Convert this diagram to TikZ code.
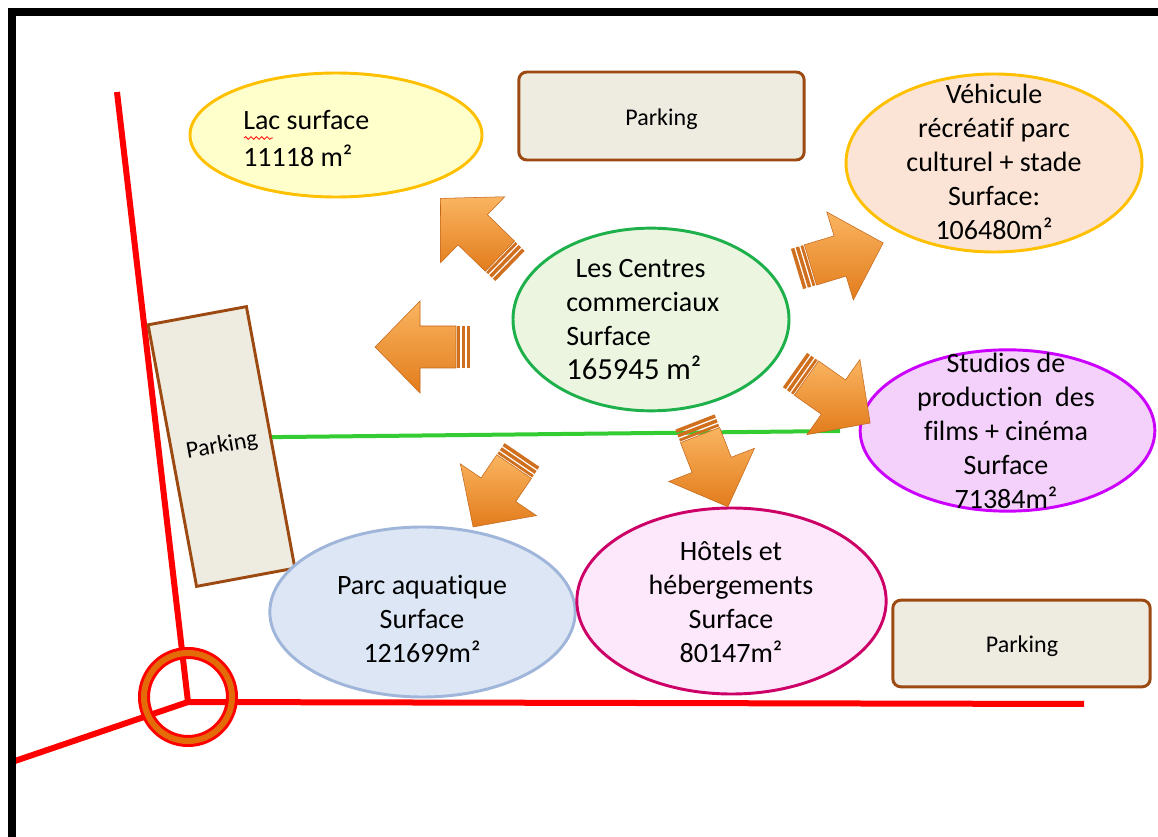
\documentclass[tikz,border=0pt]{standalone}
\usepackage{fontspec}
\setmainfont{Carlito}[Ligatures={NoCommon}]
\usetikzlibrary{shapes.geometric,decorations.pathmorphing}

\definecolor{roadred}{HTML}{FF0000}
\definecolor{ringorange}{HTML}{E36C09}
\definecolor{lakefill}{HTML}{FFFFCC}
\definecolor{goldline}{HTML}{FFC000}
\definecolor{parkfill}{HTML}{EEECE1}
\definecolor{parkline}{HTML}{9C4A12}
\definecolor{peachfill}{HTML}{FBE4D5}
\definecolor{mallfill}{HTML}{EBF5E0}
\definecolor{mallline}{HTML}{1DB04B}
\definecolor{studiofill}{HTML}{F3D1FA}
\definecolor{studioline}{HTML}{CC00FF}
\definecolor{aquafill}{HTML}{DCE6F4}
\definecolor{aqualine}{HTML}{9FB6DA}
\definecolor{hotelfill}{HTML}{FCE7FB}
\definecolor{hotelline}{HTML}{CC0066}
\definecolor{linkgreen}{HTML}{33CC33}
\definecolor{arrowlight}{HTML}{FAB460}
\definecolor{arrowdark}{HTML}{E27C1C}
\definecolor{arrowedge}{HTML}{C4661A}
\definecolor{stripe}{HTML}{D0701E}

\tikzset{
  zone/.style={ellipse, draw, line width=2.2pt, inner sep=0pt},
  parkbox/.style={rectangle, rounded corners=6pt, draw=parkline, fill=parkfill,
    line width=2.2pt, inner sep=0pt},
  label/.style={align=center, inner sep=0pt, font=\fontsize{21}{25.5}\selectfont},
  parklabel/.style={inner sep=0pt, font=\fontsize{18}{20}\selectfont},
  road/.style={draw=roadred, line width=4.5pt},
  arrowbody/.style={top color=arrowlight, bottom color=arrowdark, draw=arrowedge, line width=0.4pt},
  arrowstripe/.style={fill=stripe, draw=none},
}

% Block arrow: tail point, direction (degrees), length
\newcommand{\blockarrow}[4]{%
  \begin{scope}[shift={(#1,#2)}, rotate=#3]
    \shade[arrowbody] (14,-21) -- ({#4-45},-21) -- ({#4-45},-46) -- (#4,0)
      -- ({#4-45},46) -- ({#4-45},21) -- (14,21) -- cycle;
    \fill[arrowstripe] (0,-21) rectangle (3.5,21);
    \fill[arrowstripe] (5,-21) rectangle (8.5,21);
    \fill[arrowstripe] (10,-21) rectangle (12.8,21);
  \end{scope}}

\begin{document}
\begin{tikzpicture}[x=0.75pt,y=-0.75pt]
  \useasboundingbox (0,0) rectangle (1158,837);
  \fill[white] (0,0) rectangle (1158,837);

  % roads and roundabout
  \coordinate (north) at (117,92);
  \coordinate (hub) at (188,702);
  \coordinate (east) at (1084,704);
  \coordinate (west) at (12,762);
  \draw[road] (north) -- (hub);
  \draw[road] (hub) -- (east);
  \draw[road] (hub) -- (west);
  \node[circle, draw=roadred, line width=9pt, minimum size=66pt, inner sep=0pt] (ring) at (188,697) {};
  \node[circle, draw=ringorange, line width=4.5pt, minimum size=66pt, inner sep=0pt] (ringin) at (188,697) {};

  % frame
  \fill[black] (8,8) rectangle (1158,16);
  \fill[black] (8,8) rectangle (16,837);

  % zones
  \node[zone, draw=goldline, fill=lakefill, minimum width=219pt, minimum height=93pt] (lac) at (336,135) {};
  \node[label, align=left, anchor=north west, font=\fontsize{21}{27.75}\selectfont] (lac-t) at (243,110.5)
    {Lac surface\\11118 m²};
  \draw[roadred, line width=0.6pt, decorate,
        decoration={snake, amplitude=1pt, segment length=4pt}] (244,138) -- (273,138);

  \node[parkbox, minimum width=214pt, minimum height=66pt] (p1) at (661.5,116) {};
  \node[parklabel] (p1-t) at (661.5,119) {Parking};

  \node[zone, draw=goldline, fill=peachfill, minimum width=222pt, minimum height=133.5pt] (veh) at (994,163) {};
  \node[label] (veh-t) at (994,162)
    {Véhicule\\récréatif parc\\culturel + stade\\Surface:\\106480m²};

  \node[zone, draw=mallline, fill=mallfill, minimum width=207pt, minimum height=137pt] (mall) at (651,319.5) {};
  \node[label, align=left, anchor=north west] (mall-t) at (566,259)
    {\hspace*{7pt}Les Centres\\commerciaux\\Surface\\[0pt]{\fontsize{23}{25.5}\selectfont 165945 m²}};

  \node[zone, draw=studioline, fill=studiofill, minimum width=221pt, minimum height=121pt] (studio) at (1007.5,430.5) {};
  \node[label] (studio-t) at (1006,431)
    {Studios de\\production \ des\\films + cinéma\\Surface\\71384m²};

  \node[parkbox, rounded corners=0pt, rotate=10.5, minimum width=75pt, minimum height=199.5pt] (p2) at (221.5,446.5) {};
  \node[parklabel, rotate=10] (p2-t) at (222,446) {Parking};
  \coordinate (link-end) at (840,431);
  \draw[linkgreen, line width=3pt] (p2.east) -- (link-end);

  \node[zone, draw=aqualine, fill=aquafill, minimum width=229pt, minimum height=127.5pt] (aqua) at (422.5,612) {};
  \node[label] (aqua-t) at (422,619)
    {Parc aquatique\\Surface\\121699m²};

  \node[zone, draw=hotelline, fill=hotelfill, minimum width=232pt, minimum height=139.5pt] (hotel) at (731.5,601) {};
  \node[label] (hotel-t) at (731,602)
    {Hôtels et\\hébergements\\Surface\\80147m²};

  \node[parkbox, minimum width=193pt, minimum height=65pt] (p3) at (1021.5,643.5) {};
  \node[parklabel] (p3-t) at (1022,646) {Parking};

  % arrows from the shopping centre
  \blockarrow{510}{266}{135.8}{97}
  \blockarrow{470}{347}{180}{95}
  \blockarrow{797}{269}{16.8}{90}
  \blockarrow{795}{370}{-35.2}{92}
  \blockarrow{522}{455}{235.8}{87}
  \blockarrow{695}{422}{-68.8}{91}
\end{tikzpicture}
\end{document}
